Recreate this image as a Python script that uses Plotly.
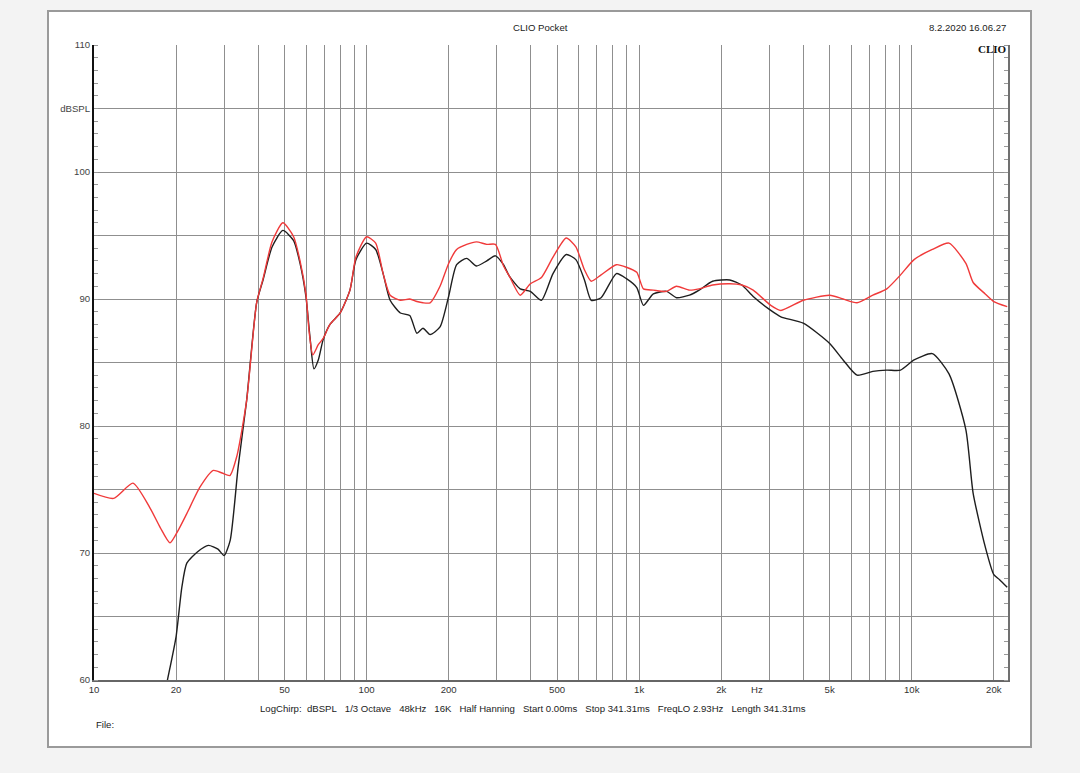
import numpy as np
import plotly.graph_objects as go

# ---- data (frequency in Hz, level in dBSPL) ----
black_freq = [18.0, 18.6, 20, 21.0, 21.9, 24, 26.3, 28.5, 30, 31.6, 33.8, 36.3, 39.5, 41.7, 45,
              49.3, 54, 57, 59.9, 62, 64.1, 66.5, 69.3, 73.4, 80, 86.9, 91.4, 100, 108, 115,
              122, 133, 144, 153, 161, 171, 186, 200, 214, 233, 253, 276, 297, 318, 334, 366,
              399, 438, 483, 540, 586, 630, 667, 725, 825, 898, 980, 1037, 1127, 1260, 1370,
              1530, 1660, 1860, 2150, 2380, 2620, 3040, 3310, 4000, 5000, 5600, 6300, 7200,
              8100, 9100, 10200, 11900, 13700, 15800, 16800, 18600, 20000, 21000, 22400]
black_db = [58.5, 60.0, 63.4, 67.3, 69.2, 70.1, 70.6, 70.3, 69.8, 71.0, 76.8, 82.0, 89.7, 91.5, 94.1,
            95.4, 94.6, 92.8, 90.2, 87.0, 84.5, 85.2, 86.8, 88.0, 88.9, 90.7, 93.1, 94.4, 93.9, 92.0,
            89.9, 88.9, 88.7, 87.3, 87.7, 87.2, 87.8, 90.2, 92.7, 93.2, 92.6, 93.0, 93.4, 92.7, 91.8, 90.8,
            90.6, 89.9, 92.0, 93.5, 93.1, 91.5, 89.9, 90.1, 92.0, 91.6, 90.9, 89.5, 90.4, 90.6, 90.1,
            90.3, 90.7, 91.4, 91.5, 91.1, 90.2, 89.1, 88.6, 88.1, 86.5, 85.2, 84.0, 84.3,
            84.4, 84.4, 85.2, 85.7, 84.1, 79.7, 74.7, 70.5, 68.3, 67.9, 67.3]

red_freq = [10, 11.8, 13.9, 16.0, 17.5, 19.0, 20.5, 21.9, 24.5, 27.4, 29.5, 31.5, 33.4, 36.3, 39.5,
            41.7, 45, 49.3, 54, 57, 59.9, 61.5, 63.5, 66.5, 69.3, 73.4, 80, 86.9, 91.4, 100, 108,
            115, 122, 133, 144, 153, 161, 171, 186, 200, 214, 233, 253, 276, 297, 318, 334, 366,
            399, 438, 483, 540, 586, 630, 667, 725, 825, 898, 980, 1037, 1127, 1260, 1370, 1530,
            1660, 1860, 2150, 2380, 2620, 3040, 3310, 4000, 5000, 5600, 6300, 7200, 8100, 9100,
            10200, 11900, 13700, 15800, 16800, 18600, 20000, 22400]
red_db = [74.7, 74.3, 75.5, 73.6, 72.0, 70.8, 71.9, 73.1, 75.2, 76.5, 76.3, 76.1, 77.6, 82.0, 89.7,
          91.6, 94.5, 96.0, 94.9, 93.0, 90.4, 87.5, 85.6, 86.4, 86.9, 88.0, 88.9, 90.7, 93.3, 94.9, 94.4,
          92.0, 90.3, 89.9, 90.0, 89.8, 89.7, 89.7, 91.0, 92.8, 93.9, 94.3, 94.5, 94.3, 94.3, 92.6, 91.8, 90.3,
          91.2, 91.7, 93.3, 94.8, 94.1, 92.3, 91.4, 91.9, 92.7, 92.5, 92.1, 90.8, 90.7, 90.6, 91.0, 90.7,
          90.8, 91.1, 91.2, 91.1, 90.7, 89.5, 89.1, 89.9, 90.3, 90.0, 89.7, 90.3, 90.8, 91.9,
          93.1, 93.9, 94.4, 92.8, 91.3, 90.4, 89.8, 89.4]

x_grid = [m * 10 ** e for e in (1, 2, 3, 4) for m in range(1, 10)] + [20000]
x_grid = [v for v in x_grid if v <= 22500]
x_labels = {10: "10", 20: "20", 50: "50", 100: "100", 200: "200", 500: "500",
            1000: "1k", 2000: "2k", 5000: "5k", 10000: "10k", 20000: "20k"}
y_ticks = [60, 65, 70, 75, 80, 85, 90, 95, 100, 105, 110]
y_labels = ["60", "", "70", "", "80", "", "90", "", "100", "dBSPL", "110"]

title_text = "CLIO Pocket"
date_text = "8.2.2020 16.06.27"
info_text = ("LogChirp:  dBSPL   1/3 Octave   48kHz   16K   Half Hanning   Start 0.00ms   "
             "Stop 341.31ms   FreqLO 2.93Hz   Length 341.31ms")

FONT = "Liberation Sans, Arial, sans-serif"
FS = 9.6
nb = lambda s: s.replace(" ", "\u00a0")

fig = go.Figure()
fig.add_trace(go.Scatter(x=black_freq, y=black_db, mode="lines",
                         line=dict(color="#1e1e1e", width=1.4, shape="spline", smoothing=0.6),
                         showlegend=False, hoverinfo="skip"))
fig.add_trace(go.Scatter(x=red_freq, y=red_db, mode="lines", yaxis="y2",
                         line=dict(color="#f03a3a", width=1.4, shape="spline", smoothing=0.6),
                         showlegend=False, hoverinfo="skip"))

W, H = 1080, 773
L, R, T, B = 94, W - 1008, 45, H - 680
pw, ph = W - L - R, H - T - B

def px(xp):
    return (xp - L) / pw

def py(yp):
    return (H - B - yp) / ph

GRID = "#8f8f8f"
fig.update_layout(
    width=W, height=H,
    margin=dict(l=L, r=R, t=T, b=B),
    paper_bgcolor="#f3f3f3",
    plot_bgcolor="white",
    font=dict(family=FONT, size=FS, color="#333"),
    shapes=[dict(type="rect", xref="paper", yref="paper", layer="below",
                 x0=px(48), x1=px(1031), y0=py(747), y1=py(11),
                 fillcolor="white", line=dict(color="#9a9a9a", width=2))],
    xaxis=dict(type="log", range=[1, np.log10(22550)],
               tickmode="array", tickvals=x_grid,
               ticktext=[x_labels.get(v, "") for v in x_grid],
               showgrid=True, gridcolor=GRID, gridwidth=1,
               ticks="", showline=True, linecolor="#666", linewidth=1.5,
               zeroline=False, tickfont=dict(size=FS, color="#333")),
    yaxis=dict(range=[60, 110], tickmode="array", tickvals=y_ticks, ticktext=y_labels,
               showgrid=True, gridcolor=GRID, gridwidth=1,
               ticks="", showline=True, linecolor="#111", linewidth=2,
               zeroline=False,
               minor=dict(dtick=1, ticks="inside", ticklen=4, tickcolor="#999", showgrid=False),
               tickfont=dict(size=FS, color="#444")),
    yaxis2=dict(range=[60, 110], overlaying="y", side="right", anchor="x",
                showgrid=False, zeroline=False, showticklabels=False,
                tickmode="array", tickvals=y_ticks, ticks="",
                showline=True, linecolor="#707070", linewidth=2,
                minor=dict(dtick=1, ticks="inside", ticklen=4, tickcolor="#999", showgrid=False)),
    annotations=[
        dict(text=title_text, xref="paper", yref="paper", x=px(540), y=py(28),
             xanchor="center", yanchor="middle", showarrow=False, font=dict(size=FS, color="#222")),
        dict(text=date_text, xref="paper", yref="paper", x=px(1008), y=py(28),
             xanchor="right", yanchor="middle", showarrow=False, font=dict(size=FS, color="#222")),
        dict(text="<b>CLIO</b>", xref="paper", yref="paper", x=px(1009), y=py(49),
             xanchor="right", yanchor="middle", showarrow=False,
             font=dict(family="Liberation Serif, serif", size=11, color="#111")),
        dict(text="Hz", xref="x", yref="paper", x=np.log10(2710), y=py(689),
             xanchor="center", yanchor="middle", showarrow=False, font=dict(size=FS, color="#333")),
        dict(text=nb(info_text), xref="paper", yref="paper", x=px(258), y=py(708),
             xanchor="left", yanchor="middle", showarrow=False, font=dict(size=FS, color="#222")),
        dict(text="File:", xref="paper", yref="paper", x=px(94), y=py(724),
             xanchor="left", yanchor="middle", showarrow=False, font=dict(size=FS, color="#222")),
    ],
)

fig.write_html("out.html", config={"displayModeBar": False},
               post_script="document.body.style.margin='0';document.body.style.padding='0';"
                           "document.body.style.background='#f3f3f3';"
                           "document.documentElement.style.overflow='hidden';")
